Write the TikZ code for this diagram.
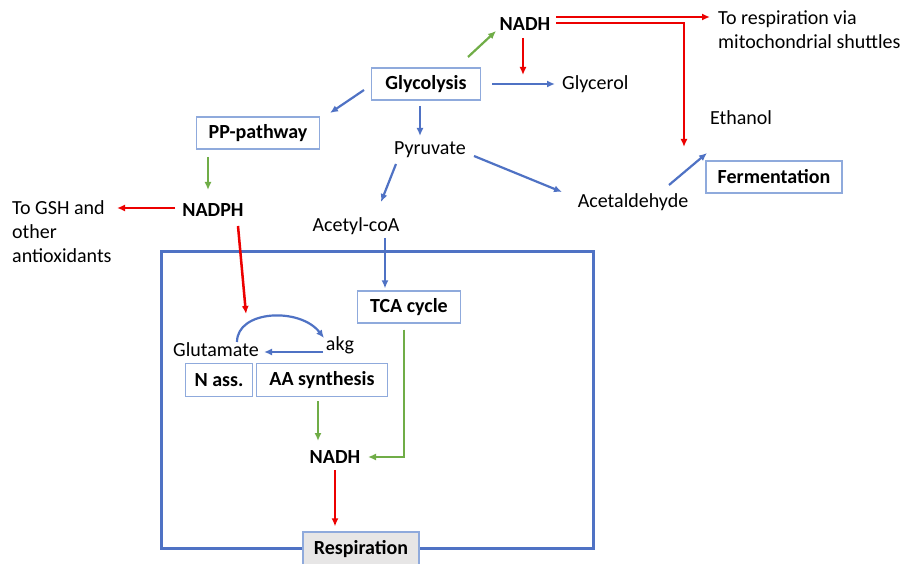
\documentclass[tikz,border=0pt]{standalone}
\usepackage{fontspec}
\setmainfont{Carlito}
\usetikzlibrary{arrows.meta, calc}

\definecolor{pathblue}{RGB}{79,114,196}
\definecolor{boxblue}{RGB}{143,170,220}
\definecolor{gainred}{RGB}{236,0,0}
\definecolor{gaingreen}{RGB}{112,173,71}
\definecolor{respgray}{RGB}{231,230,230}

\begin{document}
\begin{tikzpicture}[
    x=1pt, y=-1pt,
    font=\fontsize{20}{24}\selectfont,
    % Styles
    metab/.style={ % Metabolite names
        inner sep=0pt
    },
    cofac/.style={ % Cofactors
        metab,
        font=\fontsize{20}{24}\selectfont\bfseries
    },
    pathway/.style={ % Pathway boxes
        rectangle,
        draw=boxblue,
        line width=1.2pt,
        inner sep=0pt,
        minimum height=32,
        font=\fontsize{20}{24}\selectfont\bfseries
    },
    arrow/.style={
        -{Latex[length=8pt, width=7pt]},
        line width=2.2pt
    },
    flux/.style={ % Carbon flow
        arrow,
        pathblue
    },
    redox/.style={ % Production of reducing power
        arrow,
        gaingreen
    },
    use/.style={ % Use of reducing power
        arrow,
        gainred,
        line width=2.5pt
    }
]
    \useasboundingbox (0,0) rectangle (906,564);

    % Mitochondrion
    \node [draw=pathblue, line width=3pt, minimum width=432, minimum height=296, inner sep=0pt] (mito) at (377,400) {};

    % Pathways
    \node [pathway, minimum width=109] (glyc) at (426,84) {Glycolysis};
    \node [pathway, minimum width=123] (pp) at (258,133) {PP-pathway};
    \node [pathway, minimum width=136] (ferm) at (774,177) {Fermentation};
    \node [pathway, minimum width=103] (tca) at (409,307) {TCA cycle};
    \node [pathway, minimum width=67, minimum height=33] (nass) at (219,380) {N ass.};
    \node [pathway, minimum width=131, minimum height=33] (aa) at (322,380) {AA synthesis};
    \node [pathway, minimum width=116, minimum height=34, fill=respgray] (resp) at (361,549) {Respiration};

    % Metabolites and cofactors
    \node [cofac] (nadh) at (525,24) {NADH};
    \node [metab, anchor=west, align=left] (tresp) at (718,30) {To respiration via\\mitochondrial shuttles};
    \node [metab, anchor=west] (glycerol) at (562,84) {Glycerol};
    \node [metab] (pyr) at (430,150) {Pyruvate};
    \node [metab] (ethanol) at (741,118) {Ethanol};
    \node [metab] (acet) at (633,202) {Acetaldehyde};
    \node [cofac] (nadph) at (213,210) {NADPH};
    \node [metab, anchor=west, align=left] (tgsh) at (12,232) {To GSH and\\other\\antioxidants};
    \node [metab] (acoa) at (356,226) {Acetyl-coA};
    \node [metab] (glu) at (216,350) {Glutamate};
    \node [metab] (akg) at (340,345) {akg};
    \node [cofac] (nadhm) at (335,457) {NADH};

    % Cytosolic carbon flow
    \draw [flux] ($(glyc.east)+(11,0)$) -- ($(glycerol.west)+(-7,0)$);
    \draw [flux] ($(glyc)+(-62,6)$) -- ($(pp)+(72,-20)$);
    \draw [flux] ($(glyc)+(-6,22)$) -- ($(pyr)+(-10,-14)$);
    \draw [flux] ($(pyr)+(-34,14)$) -- ($(acoa)+(25,-24)$);
    \draw [flux] ($(pyr)+(44,6)$) -- ($(acet)+(-71,-10)$);
    \draw [flux] ($(acet)+(36,-17)$) -- ($(ethanol)+(-34,35)$);

    % Reducing power in the cytosol
    \draw [redox] ($(glyc)+(42,-27)$) -- ($(nadh)+(-29,7)$);
    \draw [redox] ($(pp)+(-50,24)$) -- ($(nadph)+(-5,-20)$);
    \draw [use] ($(nadh)+(-2,14)$) -- ($(nadh)+(-2,51)$);
    \draw [use] ($(nadh)+(31,-7)$) -- ($(tresp.west)+(-8,-13)$);
    \draw [use] ($(nadh)+(31,-1)$) -| ($(ethanol)+(-57,29)$);
    \draw [use] ($(nadph)+(-38,-2)$) -- ($(tgsh.west)+(105,-24)$);
    \draw [use] ($(nadph)+(25,16)$) -- ($(glu)+(30,-36)$);

    % Mitochondrial flow
    \draw [flux] ($(acoa)+(29,12)$) -- ($(tca.north)+(-24,-2)$);
    \draw [flux] ($(glu)+(21,-8)$) .. controls ($(glu)+(21,-40)$) and ($(akg)+(-40,-38)$) .. ($(akg)+(-16,-7)$);
    \draw [flux] ($(akg)+(-17,7)$) -- ($(glu)+(48,2)$);
    \draw [redox] ($(tca.south)+(-5,6)$) |- ($(nadhm)+(33,0)$);
    \draw [redox] ($(aa.south)+(-4,4)$) -- ($(nadhm)+(-17,-16)$);
    \draw [use] ($(nadhm)+(0,13)$) -- ($(resp.north)+(-26,-5)$);
\end{tikzpicture}
\end{document}
